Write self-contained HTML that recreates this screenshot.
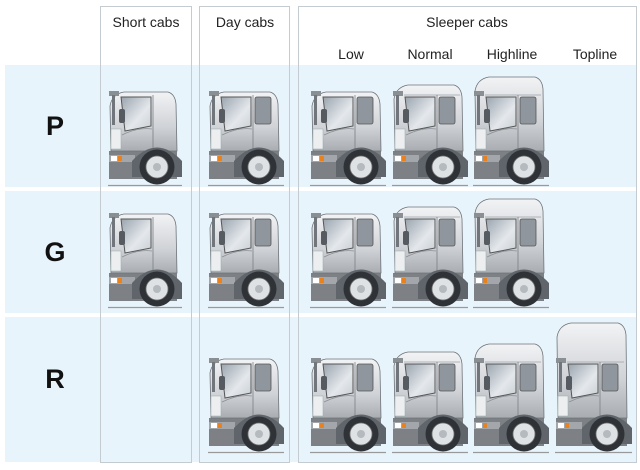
<!DOCTYPE html>
<html><head><meta charset="utf-8"><style>
body{margin:0;background:#fff;width:640px;height:465px;overflow:hidden;font-family:"Liberation Sans",sans-serif}
</style></head><body>
<svg id="s" width="640" height="465" xmlns="http://www.w3.org/2000/svg" font-family="Liberation Sans, sans-serif">
<defs>
<linearGradient id="body" x1="0" y1="0" x2="0" y2="1"><stop offset="0" stop-color="#f2f3f5"/><stop offset="0.6" stop-color="#cfd2d6"/><stop offset="1" stop-color="#a9adb2"/></linearGradient>
<linearGradient id="win" x1="0" y1="0" x2="1" y2="1"><stop offset="0" stop-color="#9aa4ae"/><stop offset="0.6" stop-color="#e4e8ec"/><stop offset="1" stop-color="#c8ced4"/></linearGradient>
</defs>
<rect x="5" y="65" width="631" height="122" fill="#e8f4fb"/>
<rect x="5" y="191" width="631" height="122" fill="#e8f4fb"/>
<rect x="5" y="317" width="631" height="145" fill="#e8f4fb"/>
<g fill="none" stroke="#c4ccd2" stroke-width="1">
<rect x="100.5" y="6.5" width="91" height="456"/>
<rect x="199.5" y="6.5" width="90" height="456"/>
<rect x="298.5" y="6.5" width="338" height="456"/>
</g>
<g font-size="14" fill="#222" text-anchor="middle">
<text x="146" y="27">Short cabs</text><text x="245" y="27">Day cabs</text><text x="467" y="27">Sleeper cabs</text>
<text x="351" y="59">Low</text><text x="430" y="59">Normal</text><text x="512" y="59">Highline</text><text x="595" y="59">Topline</text>
</g>
<g font-size="27" font-weight="bold" fill="#111" text-anchor="middle">
<text x="55" y="135">P</text><text x="55" y="261">G</text><text x="55" y="388">R</text>
</g>
<g id="trucks"></g>
</svg>
<script>
function truck(x,g,h,w,sl){
 var t=g-h, s='';
 s+='<line x1="'+x+'" y1="'+(g+0.5)+'" x2="'+(x+w+4)+'" y2="'+(g+0.5)+'" stroke="#999" stroke-width="1.2"/>';
 s+='<rect x="'+(x+1)+'" y="'+(g-34)+'" width="'+(w-2)+'" height="28" fill="#7d8185"/>';
 s+='<rect x="'+(x+1)+'" y="'+(g-30)+'" width="26" height="7" fill="#a3a7ab"/>';
 s+='<rect x="'+(x+3)+'" y="'+(g-29)+'" width="6" height="5" fill="#fff"/>';
 s+='<rect x="'+(x+10)+'" y="'+(g-29)+'" width="4" height="5" fill="#e8821e"/>';
 s+='<path d="M'+(x+3)+' '+(g-34)+' L'+(x+2)+' '+(t+14)+' Q'+(x+4)+' '+(t+2)+' '+(x+16)+' '+t+' L'+(x+w-10)+' '+t+' Q'+(x+w-3)+' '+(t+2)+' '+(x+w-2)+' '+(t+12)+' L'+(x+w-1)+' '+(g-34)+' Z" fill="url(#body)" stroke="#6e747a" stroke-width="0.8"/>';
 if(h>95) s+='<path d="M'+(x+12)+' '+(g-90)+' L'+(x+w-4)+' '+(g-90)+'" stroke="#9ba1a7" stroke-width="0.8"/>';
 s+='<rect x="'+(x+3)+'" y="'+(g-56)+'" width="10" height="20" fill="#eceef0" stroke="#9aa" stroke-width="0.5"/>';
 var wy=g-88;
 s+='<path d="M'+(x+13)+' '+wy+' L'+(x+43)+' '+wy+' L'+(x+43)+' '+(wy+29)+' L'+(x+17)+' '+(wy+34)+' Z" fill="url(#win)" stroke="#555" stroke-width="1"/>';
 if(sl) s+='<rect x="'+(x+47)+'" y="'+wy+'" width="16" height="27" rx="2" fill="#8f969d" stroke="#555" stroke-width="0.8"/>';
 s+='<line x1="'+(x+45)+'" y1="'+(wy-2)+'" x2="'+(x+45)+'" y2="'+(g-35)+'" stroke="#7a8086" stroke-width="0.8"/>';
 s+='<path d="M'+(x+14)+' '+(g-50)+' Q'+(x+30)+' '+(g-58)+' '+(x+44)+' '+(g-56)+'" fill="none" stroke="#8a9096" stroke-width="0.8"/>';
 s+='<rect x="'+(x+1)+'" y="'+(g-94)+'" width="10" height="5" fill="#8a8f94"/>';
 s+='<rect x="'+(x+11)+'" y="'+(g-76)+'" width="6" height="14" rx="2" fill="#555b61"/>';
 s+='<rect x="'+(x+4)+'" y="'+(g-90)+'" width="3" height="30" fill="#70767c"/>';
 var cx=x+w-21, cy=g-18;
 s+='<path d="M'+(cx-25)+' '+(g-8)+' L'+(cx-25)+' '+(cy-6)+' Q'+cx+' '+(cy-33)+' '+(cx+25)+' '+(cy-6)+' L'+(cx+25)+' '+(g-8)+' Z" fill="#5f656b"/>';
 s+='<circle cx="'+cx+'" cy="'+cy+'" r="17.5" fill="#2f3338"/>';
 s+='<circle cx="'+cx+'" cy="'+cy+'" r="11" fill="#dfe2e5" stroke="#777" stroke-width="0.8"/>';
 s+='<circle cx="'+cx+'" cy="'+cy+'" r="4" fill="#b5babf"/>';
 return s;
}
var T='';
T+=truck(108,185,93,70,0)+truck(208,185,93,72,1)+truck(310,185,93,72,1)+truck(392,185,100,72,1)+truck(473,185,108,72,1);
T+=truck(108,307,93,70,0)+truck(208,307,93,72,1)+truck(310,307,93,72,1)+truck(392,307,100,72,1)+truck(473,307,108,72,1);
T+=truck(208,452,93,72,1)+truck(310,452,93,72,1)+truck(392,452,100,72,1)+truck(473,452,108,72,1)+truck(555,452,129,73,1);
document.getElementById('trucks').innerHTML=T;
</script>
</body></html>
